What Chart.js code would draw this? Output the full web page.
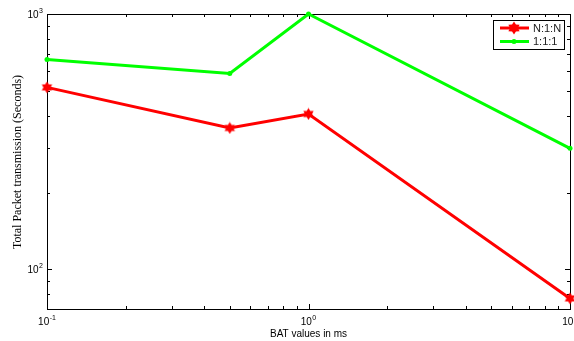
<!DOCTYPE html>
<html>
<head>
<meta charset="utf-8">
<script src="https://cdn.jsdelivr.net/npm/chart.js@4/dist/chart.umd.min.js"></script>
<style>
  html, body { margin: 0; padding: 0; background: #fff; overflow: hidden; }
  canvas { display: block; }
</style>
</head>
<body>
<canvas id="chart" width="574" height="341"></canvas>
<script>
// BAT values (ms) and total packet transmission times (seconds)
const batValues = [0.1, 0.5, 1, 10];
const nToN = [516, 358, 406, 77];
const oneToOne = [664, 585, 1000, 298];
const seriesLabels = ['N:1:N', '1:1:1'];

// Axis ranges and decade tick labels (10^exponent)
const xRange = [0.1, 10];
const yRange = [70, 1000];
const xMajorTicks = [0.1, 1, 10];
const xTickExponents = ['-1', '0', '1'];
const yMajorTicks = [100, 1000];
const yTickExponents = ['2', '3'];
const xMinorTicks = [0.2, 0.3, 0.4, 0.5, 0.6, 0.7, 0.8, 0.9, 2, 3, 4, 5, 6, 7, 8, 9];
const yMinorTicks = [80, 90, 200, 300, 400, 500, 600, 700, 800, 900];

const RED = '#ff0000';
const GREEN = '#00ff00';

// Filled hexagram marker
function hexagram(size, color) {
  const c = document.createElement('canvas');
  c.width = size; c.height = size;
  const g = c.getContext('2d');
  const r = size / 2 - 0.5, ri = r * 0.6, cx = size / 2, cy = size / 2;
  g.beginPath();
  for (let i = 0; i < 12; i++) {
    const a = -Math.PI / 2 + i * Math.PI / 6;
    const rr = i % 2 === 0 ? r : ri;
    const px = cx + rr * Math.cos(a), py = cy + rr * Math.sin(a);
    if (i === 0) g.moveTo(px, py); else g.lineTo(px, py);
  }
  g.closePath();
  g.fillStyle = color;
  g.fill();
  return c;
}
const starMarker = hexagram(13, RED);
const starLegend = hexagram(14, RED);

function pow10Label(ctx, exp, x, baseY, align) {
  ctx.font = '10px "Liberation Sans", Arial, sans-serif';
  const wb = ctx.measureText('10').width;
  ctx.font = '7px "Liberation Sans", Arial, sans-serif';
  const we = ctx.measureText(exp).width;
  const total = wb + we + 0.5;
  let sx = align === 'center' ? x - total / 2 : x - total;
  ctx.textAlign = 'left';
  ctx.textBaseline = 'alphabetic';
  ctx.font = '10px "Liberation Sans", Arial, sans-serif';
  ctx.fillText('10', sx, baseY);
  ctx.font = '7px "Liberation Sans", Arial, sans-serif';
  ctx.fillText(exp, sx + wb + 0.5, baseY - 5);
}

const axesPlugin = {
  id: 'matlabAxes',
  beforeDatasetsDraw(chart) {
    const { ctx, chartArea: a, scales: { x, y } } = chart;
    ctx.save();
    ctx.strokeStyle = '#000';
    ctx.lineWidth = 1;
    ctx.beginPath();
    const tick = (v, len) => {
      const px = Math.round(x.getPixelForValue(v)) + 0.5;
      ctx.moveTo(px, a.bottom); ctx.lineTo(px, a.bottom - len);
      ctx.moveTo(px, a.top); ctx.lineTo(px, a.top + len);
    };
    const ytick = (v, len) => {
      const py = Math.round(y.getPixelForValue(v)) + 0.5;
      ctx.moveTo(a.left, py); ctx.lineTo(a.left + len, py);
      ctx.moveTo(a.right, py); ctx.lineTo(a.right - len, py);
    };
    xMajorTicks.forEach(v => tick(v, 5));
    xMinorTicks.forEach(v => tick(v, 3));
    yMajorTicks.forEach(v => ytick(v, 5));
    yMinorTicks.forEach(v => ytick(v, 3));
    ctx.stroke();
    ctx.strokeRect(Math.round(a.left) + 0.5, Math.round(a.top) + 0.5,
      Math.round(a.right - a.left), Math.round(a.bottom - a.top));

    ctx.fillStyle = '#000';
    xMajorTicks.forEach((v, i) => pow10Label(ctx, xTickExponents[i], x.getPixelForValue(v), a.bottom + 16, 'center'));
    yMajorTicks.forEach((v, i) => pow10Label(ctx, yTickExponents[i], a.left - 4, y.getPixelForValue(v) + 4, 'right'));

    // axis titles
    ctx.font = '10px "Liberation Sans", Arial, sans-serif';
    ctx.textAlign = 'center';
    ctx.textBaseline = 'alphabetic';
    ctx.fillText('BAT values in ms', (a.left + a.right) / 2, 337);
    ctx.save();
    ctx.translate(20.5, 162);
    ctx.rotate(-Math.PI / 2);
    ctx.font = '12px "Liberation Serif", "Times New Roman", serif';
    ctx.fillText('Total Packet transmission (Seconds)', 0, 0);
    ctx.restore();
    ctx.restore();
  },
  afterDraw(chart) {
    const { ctx } = chart;
    const bx = 493.5, by = 20.5, bw = 71, bh = 29;
    ctx.save();
    ctx.fillStyle = '#fff';
    ctx.fillRect(bx, by, bw, bh);
    ctx.strokeStyle = '#000';
    ctx.lineWidth = 1;
    ctx.strokeRect(bx, by, bw, bh);
    const rows = [28, 41.5];
    chart.data.datasets.forEach((ds, i) => {
      const ry = rows[i];
      ctx.strokeStyle = ds.borderColor;
      ctx.lineWidth = 3;
      ctx.beginPath();
      ctx.moveTo(500, ry); ctx.lineTo(529, ry);
      ctx.stroke();
      if (i === 0) {
        ctx.drawImage(starLegend, 514 - 7, ry - 7);
      } else {
        ctx.fillStyle = ds.borderColor;
        ctx.beginPath();
        ctx.arc(514, ry, 2.5, 0, Math.PI * 2);
        ctx.fill();
      }
      ctx.fillStyle = '#222';
      ctx.font = '11px "Liberation Sans", Arial, sans-serif';
      ctx.textAlign = 'left';
      ctx.textBaseline = 'middle';
      ctx.fillText(ds.label, 533, ry + 0.5);
    });
    ctx.restore();
  }
};

new Chart(document.getElementById('chart'), {
  type: 'line',
  data: {
    datasets: [
      {
        label: seriesLabels[0],
        data: batValues.map((v, i) => ({ x: v, y: nToN[i] })),
        borderColor: RED,
        backgroundColor: RED,
        borderWidth: 3,
        pointStyle: starMarker,
        pointRadius: 6,
        tension: 0,
        clip: false
      },
      {
        label: seriesLabels[1],
        data: batValues.map((v, i) => ({ x: v, y: oneToOne[i] })),
        borderColor: GREEN,
        backgroundColor: GREEN,
        borderWidth: 3,
        pointStyle: 'circle',
        pointRadius: 2.5,
        pointBorderWidth: 0,
        tension: 0,
        clip: false
      }
    ]
  },
  options: {
    responsive: false,
    maintainAspectRatio: false,
    animation: false,
    layout: { autoPadding: false, padding: { left: 47, top: 14, right: 4, bottom: 32 } },
    plugins: { legend: { display: false }, tooltip: { enabled: false } },
    scales: {
      x: { type: 'logarithmic', min: xRange[0], max: xRange[1], display: false },
      y: { type: 'logarithmic', min: yRange[0], max: yRange[1], display: false }
    }
  },
  plugins: [axesPlugin]
});
</script>
</body>
</html>
